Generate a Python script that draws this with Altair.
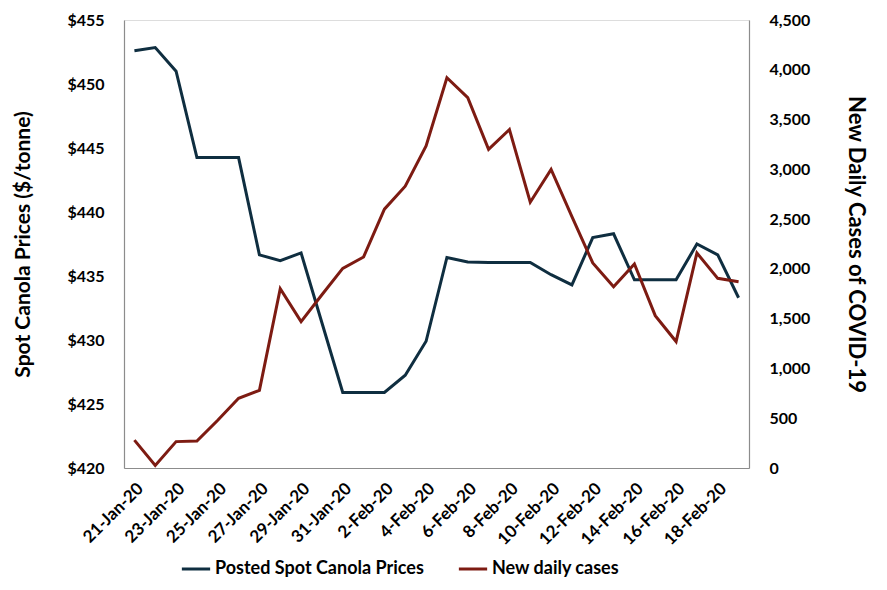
import altair as alt
import pandas as pd

dates = ["21-Jan-20", "22-Jan-20", "23-Jan-20", "24-Jan-20", "25-Jan-20", "26-Jan-20",
         "27-Jan-20", "28-Jan-20", "29-Jan-20", "30-Jan-20", "31-Jan-20", "1-Feb-20",
         "2-Feb-20", "3-Feb-20", "4-Feb-20", "5-Feb-20", "6-Feb-20", "7-Feb-20",
         "8-Feb-20", "9-Feb-20", "10-Feb-20", "11-Feb-20", "12-Feb-20", "13-Feb-20",
         "14-Feb-20", "15-Feb-20", "16-Feb-20", "17-Feb-20", "18-Feb-20", "19-Feb-20"]

canola_prices = [452.6, 452.85, 451.0, 444.25, 444.25, 444.25, 436.65, 436.2, 436.8, 431.35,
                 425.9, 425.9, 425.9, 427.25, 429.9, 436.45, 436.1, 436.05, 436.05, 436.05,
                 435.1, 434.3, 438.0, 438.3, 434.7, 434.7, 434.7, 437.5, 436.65, 433.3]

new_cases = [280, 25, 265, 270, 480, 700, 780, 1800, 1470, 1740,
             2005, 2120, 2600, 2830, 3235, 3920, 3720, 3200, 3400, 2670,
             3000, 2525, 2060, 1820, 2050, 1530, 1270, 2160, 1905, 1870]

series_names = ["Posted Spot Canola Prices", "New daily cases"]
series_colors = ["#0f2e40", "#7d1b12"]

price_df = pd.DataFrame({"date": dates, "value": canola_prices, "series": series_names[0]})
cases_df = pd.DataFrame({"date": dates, "value": new_cases, "series": series_names[1]})

FONT = "Lato"

x_enc = alt.X(
    "date:O",
    sort=dates,
    scale=alt.Scale(type="point", padding=0.5),
    axis=alt.Axis(
        title=None,
        values=dates[::2],
        labelAngle=-45,
        labelFontSize=17,
        labelFontWeight="bold",
        labelColor="#000000",
        labelPadding=12,
        ticks=False,
        domainColor="#8c8c8c",
        domainWidth=1.2,
        grid=False,
    ),
)

color_enc = alt.Color(
    "series:N",
    scale=alt.Scale(domain=series_names, range=series_colors),
    legend=alt.Legend(
        title=None,
        orient="none",
        direction="horizontal",
        legendX=56,
        legendY=533,
        symbolType="stroke",
        symbolSize=800,
        symbolStrokeWidth=3,
        labelFontSize=18,
        labelFontWeight="bold",
        labelColor="#000000",
        labelOffset=3,
        labelLimit=0,
        columnPadding=28,
    ),
)

price_line = alt.Chart(price_df).mark_line(strokeWidth=3).encode(
    x=x_enc,
    y=alt.Y(
        "value:Q",
        scale=alt.Scale(domain=[420, 455], nice=False, zero=False),
        axis=alt.Axis(
            title="Spot Canola Prices ($/tonne)",
            orient="left",
            values=list(range(420, 456, 5)),
            format="$.0f",
            labelFontSize=16,
            labelFontWeight="bold",
            labelColor="#000000",
            labelPadding=20,
            ticks=False,
            grid=False,
            domainColor="#8c8c8c",
            domainWidth=1.2,
            titleFontSize=21,
            titleFontWeight="bold",
            titleColor="#000000",
            titleAngle=270,
            titleX=-101,
            titleY=224,
            titleAlign="center",
            titleBaseline="middle",
        ),
    ),
    color=color_enc,
)

cases_line = alt.Chart(cases_df).mark_line(strokeWidth=3).encode(
    x=x_enc,
    y=alt.Y(
        "value:Q",
        scale=alt.Scale(domain=[0, 4500], nice=False),
        axis=alt.Axis(
            title="New Daily Cases of COVID-19",
            orient="right",
            values=list(range(0, 4501, 500)),
            format=",.0f",
            labelFontSize=16,
            labelFontWeight="bold",
            labelColor="#000000",
            labelPadding=20,
            ticks=False,
            grid=False,
            domainColor="#8c8c8c",
            domainWidth=1.2,
            titleFontSize=22,
            titleFontWeight="bold",
            titleColor="#000000",
            titleAngle=90,
            titleX=106,
            titleY=224,
            titleAlign="center",
            titleBaseline="middle",
        ),
    ),
    color=color_enc,
)

chart = (
    alt.layer(price_line, cases_line)
    .resolve_scale(y="independent")
    .properties(
        width=625,
        height=448,
        autosize=alt.AutoSizeParams(type="none"),
        padding={"left": 116, "top": 12, "right": 130, "bottom": 114},
        background="#ffffff",
    )
    .configure_view(stroke=None)
    .configure(font=FONT)
)

chart.save("out.html", embed_options={"renderer": "svg", "actions": False})
